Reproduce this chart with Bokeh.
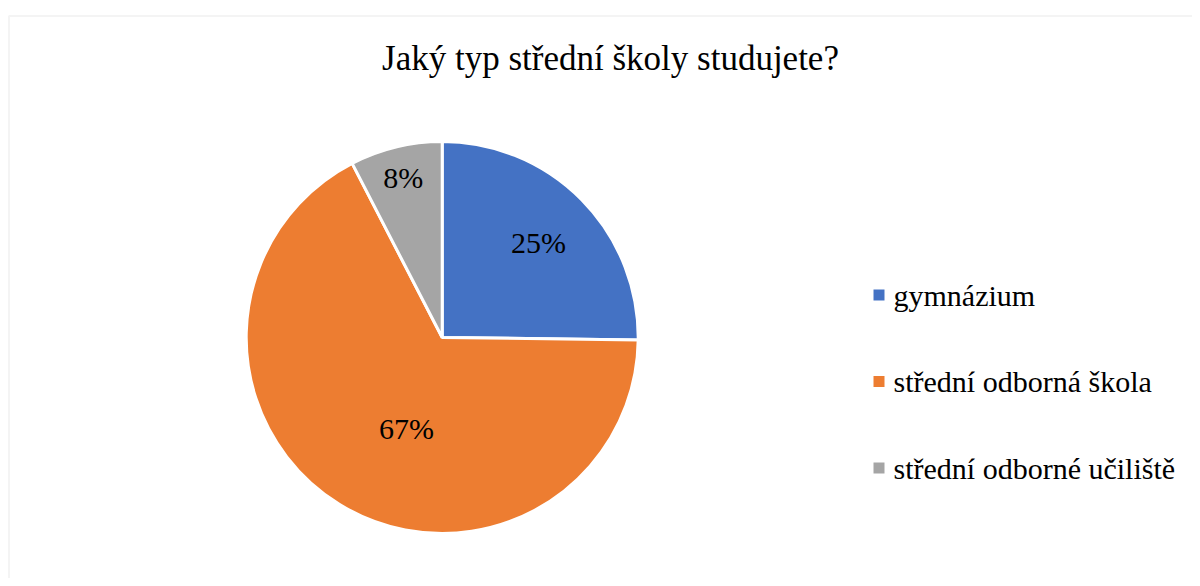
import math
from bokeh.plotting import figure
from bokeh.models import Range1d, BoxAnnotation, ColumnDataSource
from bokeh.core.properties import value
from bokeh.embed import file_html
from bokeh.resources import INLINE

# ---- data ----
title = "Jaký typ střední školy studujete?"
categories = ["gymnázium", "střední odborná škola", "střední odborné učiliště"]
shares = [25.2, 67.2, 7.6]
labels = ["25%", "67%", "8%"]
colors = ["#4472C4", "#ED7D31", "#A5A5A5"]

# ---- layout (pixel-like data space) ----
W, H = 1192, 578
cx, cy, R = 441.7, H - 337.0, 196.0
label_frac = [0.69, 0.50, 0.84]
label_shift = [0.0, 10.3, 0.0]   # degrees tweak of label angle
FONT = "Liberation Serif"

p = figure(width=W, height=H, output_backend="svg", toolbar_location=None,
           x_range=Range1d(0, W), y_range=Range1d(0, H),
           x_axis_type=None, y_axis_type=None, min_border=0)
p.grid.visible = False
p.outline_line_color = None
p.background_fill_color = "white"
p.border_fill_color = "white"

# chart area border (light gray, continues beyond the window)
p.add_layout(BoxAnnotation(left=8.5, right=W + 200, bottom=-200, top=H - 15.5,
                           fill_alpha=0, line_color="#d9d9d9", line_width=2))

# wedges, clockwise from 12 o'clock
total = sum(shares)
starts, ends, lx, ly = [], [], [], []
a = 90.0
for i, s in enumerate(shares):
    span = 360.0 * s / total
    a_end = a - span
    starts.append(math.radians(a_end))
    ends.append(math.radians(a))
    mid = math.radians((a + a_end) / 2 + label_shift[i])
    lx.append(cx + label_frac[i] * R * math.cos(mid))
    ly.append(cy + label_frac[i] * R * math.sin(mid))
    a = a_end

src = ColumnDataSource(dict(start=starts, end=ends, color=colors, cat=categories,
                            lab=labels, lx=lx, ly=ly))
p.wedge(x=cx, y=cy, radius=R, start_angle="start", end_angle="end",
        fill_color="color", line_color="white", line_width=3, source=src)

p.text(x="lx", y="ly", text="lab", source=src, text_font=value(FONT),
       text_font_size="30px", text_align="center", text_baseline="middle",
       text_color="black")

# title
p.text(x=[610], y=[H - 58], text=[title], text_font=value(FONT),
       text_font_size="35px", text_align="center", text_baseline="middle",
       text_color="black")

# legend
leg_x, leg_y0, leg_dy = 878.5, H - 294.5, 86.5
leg_ys = [leg_y0 - i * leg_dy for i in range(len(categories))]
lsrc = ColumnDataSource(dict(x=[leg_x] * len(categories), y=leg_ys,
                             tx=[leg_x + 14.5] * len(categories),
                             cat=categories, color=colors))
p.scatter(x="x", y="y", marker="square", size=11, fill_color="color",
          line_color=None, source=lsrc)
p.text(x="tx", y="y", text="cat", source=lsrc, text_font=value(FONT),
       text_font_size="30px", text_align="left", text_baseline="middle",
       text_color="black")

open("out.html", "w").write(file_html(p, INLINE))
